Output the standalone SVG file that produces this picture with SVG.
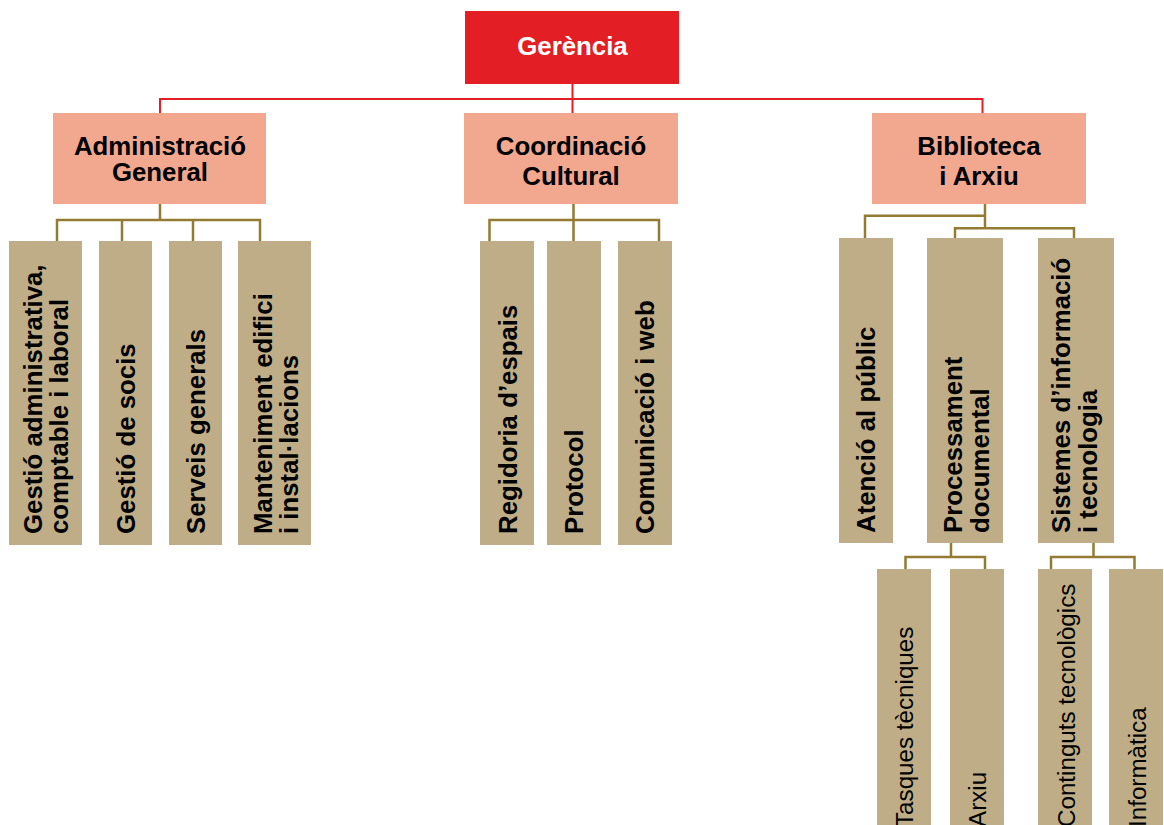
<svg xmlns="http://www.w3.org/2000/svg" width="1164" height="825" viewBox="0 0 1164 825">
<style>
.red{fill:#e31e25}
.sal{fill:#f2a78f}
.tan{fill:#bfad87}
.b{font-family:"Liberation Sans",Arial,sans-serif;font-weight:bold;font-size:25.8px;fill:#000}
.w{fill:#fff}
.r{font-family:"Liberation Sans",Arial,sans-serif;font-size:24.2px;fill:#000}
.m{text-anchor:middle}
.lr{fill:none;stroke:#e31e25;stroke-width:2}
.lb{fill:none;stroke:#937b34;stroke-width:2.5}
</style>
<rect width="1164" height="825" fill="#fff"/>
<g id="connectors">
<path class="lr" d="M572.5 84V113M160 113V99H982.5V113"/>
<path class="lb" d="M160 204V220M57 241V220H260V241M122 220V241M193 220V241"/>
<path class="lb" d="M573.5 204V241M489.5 241V220H659V241"/>
<path class="lb" d="M985 204V228.3M865 238V215.7H985M955 238V228.3H1074V238"/>
<path class="lb" d="M951 543V557M905.5 569V557H985V569"/>
<path class="lb" d="M1093.5 543V557M1051 569V557H1134.5V569"/>
</g>
<g id="gerencia"><rect class="red" x="465" y="11" width="214" height="73"/><text class="b w m" x="572.5" y="55">Gerència</text></g>
<g id="administracio"><rect class="sal" x="53" y="113" width="213" height="91"/><text class="b m" x="160" y="155">Administració<tspan x="160" y="181">General</tspan></text></g>
<g id="coordinacio"><rect class="sal" x="464" y="113" width="214" height="91"/><text class="b m" x="571" y="155">Coordinació<tspan x="571" y="185">Cultural</tspan></text></g>
<g id="biblioteca"><rect class="sal" x="872" y="113" width="214" height="91"/><text class="b m" x="979" y="155">Biblioteca<tspan x="979" y="185">i Arxiu</tspan></text></g>

<g id="gestio-admin"><rect class="tan" x="9" y="241" width="73" height="304"/><text class="b" transform="translate(42 534) rotate(-90)">Gestió administrativa,<tspan x="0" dy="26">comptable i laboral</tspan></text></g>
<g id="gestio-socis"><rect class="tan" x="99" y="241" width="53" height="304"/><text class="b" transform="translate(135 534) rotate(-90)">Gestió de socis</text></g>
<g id="serveis"><rect class="tan" x="169" y="241" width="53" height="304"/><text class="b" transform="translate(205 534) rotate(-90)">Serveis generals</text></g>
<g id="manteniment"><rect class="tan" x="238" y="241" width="73" height="304"/><text class="b" transform="translate(272 534) rotate(-90)">Manteniment edifici<tspan x="0" dy="26">i instal·lacions</tspan></text></g>

<g id="regidoria"><rect class="tan" x="480" y="241" width="54" height="304"/><text class="b" transform="translate(517 534) rotate(-90)">Regidoria d’espais</text></g>
<g id="protocol"><rect class="tan" x="547" y="241" width="54" height="304"/><text class="b" transform="translate(583 534) rotate(-90)">Protocol</text></g>
<g id="comunicacio"><rect class="tan" x="618" y="241" width="54" height="304"/><text class="b" transform="translate(654 534) rotate(-90)">Comunicació i web</text></g>

<g id="atencio"><rect class="tan" x="839" y="238" width="54" height="305"/><text class="b" transform="translate(875 533) rotate(-90)">Atenció al públic</text></g>
<g id="processament"><rect class="tan" x="927" y="238" width="76" height="305"/><text class="b" transform="translate(962 533) rotate(-90)">Processament<tspan x="0" dy="27">documental</tspan></text></g>
<g id="sistemes"><rect class="tan" x="1038" y="238" width="76" height="305"/><text class="b" transform="translate(1070 533) rotate(-90)">Sistemes d’informació<tspan x="0" dy="27">i tecnologia</tspan></text></g>

<g id="tasques"><rect class="tan" x="877" y="569" width="54" height="261"/><text class="r" transform="translate(913 827) rotate(-90)">Tasques tècniques</text></g>
<g id="arxiu"><rect class="tan" x="950" y="569" width="54" height="261"/><text class="r" transform="translate(986 827) rotate(-90)">Arxiu</text></g>
<g id="continguts"><rect class="tan" x="1038" y="569" width="54" height="261"/><text class="r" transform="translate(1075 827) rotate(-90)">Continguts tecnològics</text></g>
<g id="informatica"><rect class="tan" x="1109" y="569" width="54" height="261"/><text class="r" transform="translate(1146 827) rotate(-90)">Informàtica</text></g>
</svg>
